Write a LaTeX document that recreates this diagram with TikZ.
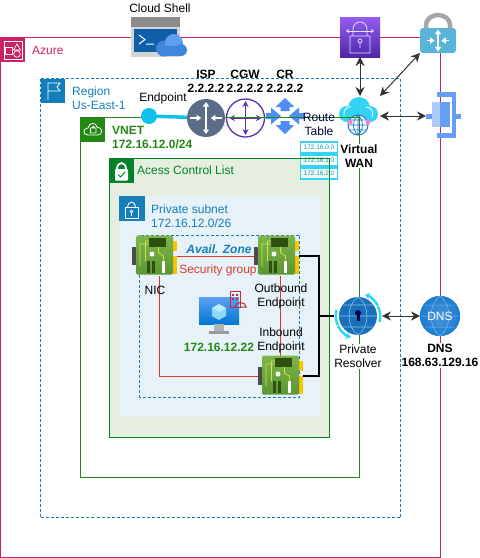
\documentclass[tikz,border=0pt]{standalone}
\usepackage{fontspec}
\setmainfont{Liberation Sans}
\usetikzlibrary{arrows.meta}
\definecolor{azurered}{HTML}{CC2264}
\definecolor{regionblue}{HTML}{147EBA}
\definecolor{vnetgreen}{HTML}{248814}
\definecolor{aclgreen}{HTML}{00832A}
\definecolor{aclfill}{HTML}{E6EEE0}
\definecolor{subnetfill}{HTML}{E6F2F8}
\definecolor{routeblue}{HTML}{4D8FF7}
\definecolor{gateblue}{HTML}{669DF6}
\definecolor{gatelight}{HTML}{AECBFA}
\definecolor{skyblue}{HTML}{32D4F5}
\definecolor{endptcyan}{HTML}{0FC1EE}
\definecolor{globeblue}{HTML}{1B7CD0}
\definecolor{ispgrey}{HTML}{5A6C86}
\definecolor{cgwpurple}{HTML}{5A30B5}
\definecolor{vpnteal}{HTML}{5AB4D8}
\definecolor{locktop}{HTML}{945DF2}
\definecolor{lockbottom}{HTML}{4D27A8}
\definecolor{nictop}{HTML}{7DB548}
\definecolor{nicbottom}{HTML}{5A9632}
\definecolor{nicdark}{HTML}{2F5010}
\definecolor{nicline}{HTML}{C8E650}
\definecolor{nicyellow}{HTML}{FFC400}
\definecolor{sgred}{HTML}{D9392B}
\definecolor{sgicon}{HTML}{C42B3F}
\definecolor{vmtop}{HTML}{5EA0EF}
\definecolor{vmbottom}{HTML}{0078D4}
\definecolor{shellblue}{HTML}{0F5FA8}
\definecolor{cloudtop}{HTML}{5EA0EF}
\definecolor{cloudbottom}{HTML}{3F86DC}
\tikzset{
lbl/.style={inner sep=0pt,align=center,font=\fontsize{12}{14}\selectfont},
boldlbl/.style={lbl,font=\fontsize{12}{14}\selectfont\bfseries},
iconbox/.style={inner sep=0pt,outer sep=0pt},
dblarrow/.style={<->,>={Stealth[length=9pt,width=9pt]},line width=1pt,draw=black!80},
redline/.style={draw=sgred,line width=1pt},
busline/.style={draw=black,line width=1.8pt},
rtbox/.style={draw=skyblue,line width=1.6pt,fill=white,fill opacity=.5,text opacity=1,text=endptcyan!80!black,minimum width=37pt,minimum height=10.5pt,inner sep=0pt,font=\fontsize{6.5}{7}\selectfont},
nic/.pic={
\fill[black!70] (-22.5,-9) rectangle (-18.5,9);
\fill[nicyellow] (18.5,-15.5) rectangle (22.5,-5.5);
\fill[nicyellow] (18.5,0) rectangle (22.5,17.5);
\shade[rounded corners=1.5pt,top color=nictop,bottom color=nicbottom] (-18.5,-20.5) rectangle (18.5,18.5);
\fill[nicdark] (-5.5,-18) rectangle (11.5,-9);
\draw[nicline,line width=.7pt] (-14.5,10) -- (-14.5,-12) -- (-5.5,-12) (-9,5) -- (-9,-15) -- (-5.5,-15) (4,-9) -- (4,-3) -- (9,0) -- (9,4);
\fill[white] (-2.5,-2) circle (2.5);
\fill[nicdark] (-7.5,4.5) rectangle (-4.5,17);
\fill[nicdark] (-3,4.5) rectangle (0,17);
\fill[white] (7.5,4.5) rectangle (10.5,17);
}
}
\newcommand{\crossarrows}[4]{
\draw[#4,line width=1.6pt,{Triangle[length=4.5pt,width=6pt]}-{Triangle[length=4.5pt,width=6pt]}] (#1,#2-#3) -- (#1,#2+#3);
\draw[#4,line width=1.6pt,-{Triangle[length=4.5pt,width=6pt]}] (#1-#3,#2) -- (#1-.3*#3,#2);
\draw[#4,line width=1.6pt,-{Triangle[length=4.5pt,width=6pt]}] (#1+#3,#2) -- (#1+.3*#3,#2);
}
\begin{document}
\begin{tikzpicture}[x=1pt,y=-1pt]
\useasboundingbox (0,0) rectangle (480,558);
\draw[azurered,line width=1pt] (.5,37.5) rectangle (440.5,557.5);
\draw[regionblue,line width=1pt,dashed,dash pattern=on 3pt off 2pt] (40.5,78.5) rectangle (400.5,517.5);
\fill[aclfill] (109.5,158.5) rectangle (329.5,437);
\fill[subnetfill] (120,196) rectangle (320,417);

\node[iconbox,circle,draw=cgwpurple,line width=1.3pt,fill=white,minimum size=38pt] (cgw) at (245.5,118) {};
\draw[cgwpurple,line width=1.3pt,{Stealth[length=6pt,width=6pt]}-{Stealth[length=6pt,width=6pt]}] (245.5,101) -- (245.5,135);
\draw[cgwpurple,line width=1.3pt,{Stealth[length=6pt,width=6pt]}-{Stealth[length=6pt,width=6pt]}] (229,118) -- (262,118);

\node[iconbox,minimum width=38pt,minimum height=36pt] (cr) at (285,116) {};
\fill[routeblue] (285,98) -- (294.5,107) -- (289.5,107) -- (289.5,111) -- (280.5,111) -- (280.5,107) -- (275.5,107) -- cycle;
\fill[routeblue] (285,134) -- (294.5,125) -- (289.5,125) -- (289.5,121) -- (280.5,121) -- (280.5,125) -- (275.5,125) -- cycle;
\fill[routeblue] (266,113) -- (271,113) -- (271,107.5) -- (281,116) -- (271,124.5) -- (271,119) -- (266,119) -- cycle;
\fill[routeblue] (304,113) -- (299,113) -- (299,107.5) -- (289,116) -- (299,124.5) -- (299,119) -- (304,119) -- cycle;

\node[iconbox,minimum size=40pt] (wan) at (360,116) {};
\fill[skyblue] (347,114) circle (8);
\fill[skyblue] (359,108) circle (11);
\fill[skyblue] (370,114) circle (8);
\fill[skyblue] (347,108) rectangle (370,122);
\draw[white,line width=.8pt] (344,116) .. controls (343,108) and (349,106) .. (351,107) (366,107) .. controls (371,107) and (374,111) .. (372,117);
\node[iconbox,circle,draw=globeblue,fill=white,line width=1pt,minimum size=20pt] (wanglobe) at (358,125) {};
\draw[globeblue,line width=.7pt] (348,125) -- (368,125) (350,120) -- (366,120) (350,130) -- (366,130) (358,115) -- (358,135) (358,115) .. controls (352,120) and (352,130) .. (358,135) (358,115) .. controls (364,120) and (364,130) .. (358,135);
\fill[magenta!50!white] (350,122) circle (2.5);
\fill[magenta!50!white] (368,122) circle (2.5);

\node[rtbox] (rtzero) at (319,147.5) {172.16.0.0};
\node[rtbox] (rtone) at (319,160.5) {172.16.1.0};
\node[rtbox] (rttwo) at (319,173.5) {172.16.2.0};

\draw[vnetgreen,line width=1pt] (80.5,117.5) rectangle (359.5,477.5);
\draw[aclgreen,line width=1pt] (109.5,158.5) rectangle (329.5,437);
\draw[regionblue,line width=1pt,dashed,dash pattern=on 3pt off 2pt] (139.5,235) rectangle (299.5,397);

\fill[azurered] (1,38) rectangle (25,62);
\draw[white,line width=.7pt] (5.5,47.5) rectangle (12.5,54.5) (17,44) -- (20.5,50) -- (13.5,50) -- cycle (17,54) circle (3.3);
\draw[white] (4,41) rectangle (22,59);
\fill[regionblue] (41,79) rectangle (65,103);
\draw[white,line width=.8pt] (48,100) -- (48,83) -- (60,83) -- (57,87) -- (60,91) -- (48,91);
\fill[vnetgreen] (81,118) rectangle (105,142);
\draw[white,line width=.8pt] (88,135) .. controls (82,135) and (83,128) .. (88,128) .. controls (89,122) and (96,122) .. (97,127) .. controls (103,127) and (103,135) .. (98,135) -- cycle;
\draw[white,line width=.7pt] (90.5,128) rectangle (96,133) (91.5,128) arc (180:360:1.7);
\fill[aclgreen] (110,159) rectangle (134,183);
\draw[white,line width=1.8pt] (117,169) arc (180:360:4.5 and 6);
\fill[white,rounded corners=1pt] (115,169) rectangle (128,180.5);
\draw[aclgreen,line width=1pt] (118,174.5) -- (120.5,177) -- (125,172);
\fill[regionblue] (119,196) rectangle (145,221);
\draw[white,line width=.8pt] (125,207) rectangle (138,218);
\draw[white,line width=.8pt] (127.5,207) arc (180:360:4 and 5);
\draw[white,line width=.7pt] (131.5,211.5) circle (1.4) (131.5,213) -- (131.5,216);

\node[iconbox,minimum width=45pt,minimum height=39pt] (nicleft) at (154.5,256) {};
\node[iconbox,minimum width=45pt,minimum height=39pt] (nicout) at (276.5,256) {};
\node[iconbox,minimum width=45pt,minimum height=39pt] (nicin) at (280.5,376) {};
\coordinate (bus) at (319,316);
\draw[redline] (nicleft) -- (nicout);
\draw[redline] ([xshift=5pt]nicleft.south) |- (nicin.west);
\draw[redline] ([xshift=3.5pt]nicout.south) -- ([xshift=-.5pt]nicin.north);
\draw[busline] (nicout.east) -| (bus) |- (nicin.east);
\foreach \n in {nicleft,nicout,nicin}
\pic at (\n) {nic};

\node[iconbox,minimum size=38pt,circle,fill=ispgrey] (isp) at (206,118) {};
\crossarrows{206}{118}{16}{white}
\node[iconbox,circle,fill=endptcyan,minimum size=16pt] (endpt) at (149,116) {};
\draw[endptcyan,line width=3.5pt] (endpt) -- (isp);

\node[iconbox,minimum width=57pt,minimum height=40pt] (shell) at (159.5,37) {};
\fill[black!17] (131,27) rectangle (180,57);
\fill[black!45] (131,17) rectangle (180,27);
\fill[shellblue] (134,29) rectangle (177,52);
\draw[white,line width=1pt] (139,35) -- (145,39.5) -- (139,44) (146,44) -- (154,44);
\fill[cloudbottom] (164,48.5) circle (8);
\fill[cloudtop] (174,43) circle (9);
\fill[cloudbottom] (181,50) circle (6);
\fill[cloudbottom] (164,46) rectangle (181,56);

\node[iconbox,minimum size=40pt] (plock) at (360,37) {};
\shade[top color=locktop,bottom color=lockbottom] (340,17) rectangle (380,57);
\draw[white!80!locktop,line width=.8pt] (350,36) rectangle (370,53) (353,36) -- (353,29) arc (180:360:7) -- (367,36);
\draw[white!80!locktop,line width=.8pt,<->,>={Stealth[length=3pt,width=4pt]}] (346,31) -- (374,31);
\draw[white!80!locktop,line width=.8pt] (360,41) circle (2) (360,43) -- (360,48);

\node[iconbox,minimum width=36pt,minimum height=25pt] (vpn) at (438,40.5) {};
\draw[black!35,line width=4.5pt] (426,30) -- (426,25) arc (180:360:12 and 10) -- (450,30);
\fill[vpnteal,rounded corners=3pt] (420,28) rectangle (456,53);
\crossarrows{438}{40.5}{11}{white}

\node[iconbox,minimum width=35pt,minimum height=46pt] (gateway) at (443.5,116) {};
\fill[gateblue] (437,92) rectangle (456,96.5);
\fill[gateblue] (452,92) rectangle (456,138);
\fill[gateblue] (437,133) rectangle (456,138);
\fill[gateblue] (426,113.5) rectangle (431.7,118.5);
\fill[gateblue] (456,113.5) rectangle (461,118.5);
\fill[gatelight] (431.7,102) rectangle (440,127);
\fill[gateblue] (440,102) rectangle (449.5,127);

\draw[dblarrow] (plock.south) -- (wan.north);
\draw[dblarrow] (vpn.south west) -- (wan.north east);
\draw[dblarrow] (wan.east) -- (gateway.west);

\node[iconbox,circle,minimum size=48pt] (resolver) at (358,316) {};
\node[iconbox,circle,minimum size=40pt,fill=globeblue] (dns) at (440,316) {};
\draw[busline] (bus) -- (resolver);
\draw[dblarrow] (resolver.east) -- (dns.west);
\fill[globeblue!90!black] (358,316) circle (19);
\draw[white!50!globeblue,line width=.6pt] (339,316) -- (377,316) (343,305) -- (373,305) (343,327) -- (373,327) (358,297) .. controls (346,305) and (346,327) .. (358,335) (358,297) .. controls (370,305) and (370,327) .. (358,335);
\fill[black!70!blue] (358,313) circle (3);
\fill[black!70!blue] (356.5,314) rectangle (359.5,321);
\draw[skyblue,line width=2.5pt,-{Stealth[length=5pt,width=7pt]}] (378,306) arc (-26:-72:22);
\draw[skyblue,line width=2.5pt,-{Stealth[length=5pt,width=7pt]}] (338,326) arc (154:108:22);
\draw[skyblue,line width=2.5pt] (336.5,310) arc (195:154:22) (379.5,322) arc (15:-26:22);
\shade[inner color=globeblue!80!white,outer color=globeblue] (440,316) circle (20);
\draw[white!45!globeblue,line width=.5pt] (421,316) -- (459,316) (425,305) -- (455,305) (425,327) -- (455,327) (440,296) .. controls (428,305) and (428,327) .. (440,336) (440,296) .. controls (452,305) and (452,327) .. (440,336);
\node[lbl,text=white,font=\fontsize{12}{14}\selectfont] (dnstext) at (440,316) {DNS};

\shade[top color=vmtop,bottom color=vmbottom] (199,297) rectangle (239,324);
\fill[black!30] (214,324) rectangle (224,331);
\fill[black!40] (209,331) rectangle (229,334);
\fill[cyan!45] (219,304) -- (226,308) -- (226,316) -- (219,320) -- (212,316) -- (212,308) -- cycle;
\fill[cyan!25] (219,304) -- (226,308) -- (219,312) -- (212,308) -- cycle;
\draw[sgicon,line width=.8pt] (230,291) rectangle (240,307);
\foreach \gx/\gy in {232/294,236/294,232/298,236/298}
\fill[sgicon] (\gx,\gy) rectangle ++(2,2);
\draw[sgicon,line width=1pt] (235,307) arc (180:360:5.5 and 4.5) (240,307) -- (247,307);

\node[lbl] (shelllbl) at (160,8) {Cloud Shell};
\node[lbl,text=azurered,anchor=west] (azurelbl) at (32,50) {Azure};
\node[lbl,text=regionblue,anchor=west,align=left] (regionlbl) at (72,98.5) {Region\\Us-East-1};
\node[lbl] (endptlbl) at (163,98) {Endpoint};
\node[boldlbl] (isplbl) at (206,81.5) {ISP\\2.2.2.2};
\node[boldlbl] (cgwlbl) at (245,81.5) {CGW\\2.2.2.2};
\node[boldlbl] (crlbl) at (285,81.5) {CR\\2.2.2.2};
\node[lbl,text=black!75!blue] (rtlbl) at (319,124.5) {Route\\Table};
\node[boldlbl,fill=white,inner sep=1pt] (wanlbl) at (359,156) {Virtual\\WAN};
\node[boldlbl,text=vnetgreen,anchor=west,align=left] (vnetlbl) at (112,137) {VNET\\172.16.12.0/24};
\node[lbl,text=aclgreen,anchor=west] (acllbl) at (137,170) {Acess Control List};
\node[lbl,text=regionblue,anchor=west,align=left] (subnetlbl) at (151,216) {Private subnet\\172.16.12.0/26};
\node[boldlbl,text=regionblue,font=\fontsize{12}{14}\selectfont\bfseries\itshape] (azlbl) at (219,249) {Avail. Zone};
\node[lbl,text=sgred] (sglbl) at (218,270) {Security group};
\node[lbl] (niclbl) at (155,290) {NIC};
\node[lbl] (outlbl) at (281,296.5) {Outbound\\Endpoint};
\node[lbl] (inlbl) at (281,340) {Inbound\\Endpoint};
\node[boldlbl,text=vnetgreen] (vmlbl) at (219,347.5) {172.16.12.22};
\node[lbl,fill=white,inner sep=1pt] (reslbl) at (358,356.5) {Private\\Resolver};
\node[boldlbl,fill=white,inner sep=1pt] (dnslbl) at (440,355.5) {DNS\\168.63.129.16};
\end{tikzpicture}
\end{document}
